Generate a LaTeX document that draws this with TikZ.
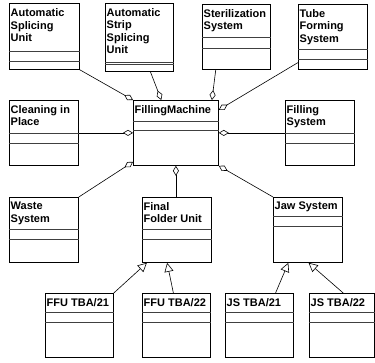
\documentclass[tikz,border=0pt]{standalone}
\usepackage{fontspec}
\setmainfont{Liberation Sans}
\usetikzlibrary{arrows.meta,calc}

% class box: name, x, y, width, height, first separator, second separator, label
\newcommand\umlclass[8]{%
  \node[classbox, minimum width=#4pt, minimum height=#5pt] (#1) at (#2,#3) {};
  \node[classname] (#1-t) at ([xshift=1.5pt,yshift=-5pt]#1.north west) {#8};
  \draw[classsep] ([yshift=-#6pt]#1.north west) -- ([yshift=-#6pt]#1.north east);
  \draw[classsep] ([yshift=-#7pt]#1.north west) -- ([yshift=-#7pt]#1.north east);
}

\tikzset{
  classbox/.style={draw, rectangle, line width=0.8pt, inner sep=0pt, anchor=north west},
  classname/.style={anchor=north west, inner sep=0pt, align=left,
    font=\fontsize{11}{12.5}\selectfont\bfseries},
  classsep/.style={line width=0.8pt, black!75},
  agg/.style={line width=0.6pt, -{Diamond[open, length=10pt, width=6pt, line width=0.6pt]}},
  gen/.style={line width=0.6pt, -{Triangle[open, length=9pt, width=9pt, line width=0.6pt]}},
}

\begin{document}
\begin{tikzpicture}[x=1pt, y=-1pt]
\useasboundingbox (0,0) rectangle (375,363);

\umlclass{asu}{9}{3.5}{70}{65.5}{47.5}{57.5}{Automatic\\Splicing\\Unit}
\umlclass{assu}{105}{3}{68}{68}{59.5}{61.5}{Automatic\\Strip\\Splicing\\Unit}
\umlclass{ster}{202}{4}{68}{65}{33}{44}{Sterilization\\System}
\umlclass{tfs}{298}{4}{69}{65}{45}{55}{Tube\\Forming\\System}

\umlclass{cip}{9}{100}{69}{65}{33}{43}{Cleaning in\\Place}
\umlclass{fm}{133}{100}{85}{65}{21}{30}{FillingMachine}
\umlclass{fs}{285}{100}{69}{65}{33}{43}{Filling\\System}

\umlclass{waste}{9}{197}{69}{65}{32}{42}{Waste\\System}
\umlclass{ffu}{142}{197}{69}{65}{32}{42}{Final\\Folder Unit}
\umlclass{jaw}{273}{197}{69}{65}{19}{29}{Jaw System}

\umlclass{ffu21}{45}{293}{68}{64}{19}{29}{FFU TBA/21}
\umlclass{ffu22}{142}{293}{68}{64}{19}{29}{FFU TBA/22}
\umlclass{js21}{225}{293}{68}{64}{19}{29}{JS TBA/21}
\umlclass{js22}{309}{293}{65}{64}{19}{29}{JS TBA/22}

% aggregations into the filling machine
\draw[agg] (asu.south east) -- (fm.north west);
\draw[agg] ($(assu.south west)!0.66!(assu.south east)$) -- ($(fm.north west)!0.33!(fm.north east)$);
\draw[agg] ($(ster.south west)!0.2!(ster.south east)$) -- ($(fm.north west)!0.92!(fm.north east)$);
\draw[agg] ($(tfs.north west)!0.89!(tfs.south west)$) -- ($(fm.north east)!0.15!(fm.south east)$);
\draw[agg] (cip.east) -- (fm.west);
\draw[agg] (fs.west) -- (fm.east);
\draw[agg] (waste.north east) -- ($(fm.south west)!0.06!(fm.north west)$);
\draw[agg] (fm.south |- ffu.north) -- (fm.south);
\draw[agg] (jaw.north west) -- (fm.south east);

% specialisations
\draw[gen] (ffu21.north east) -- ($(ffu.south west)!0.07!(ffu.south east)$);
\draw[gen] ($(ffu22.north west)!0.456!(ffu22.north east)$) -- ($(ffu.south west)!0.36!(ffu.south east)$);
\draw[gen] ($(js21.north west)!0.735!(js21.north east)$) -- ($(jaw.south west)!0.22!(jaw.south east)$);
\draw[gen] ($(js22.north west)!0.52!(js22.north east)$) -- ($(jaw.south west)!0.51!(jaw.south east)$);
\end{tikzpicture}
\end{document}
